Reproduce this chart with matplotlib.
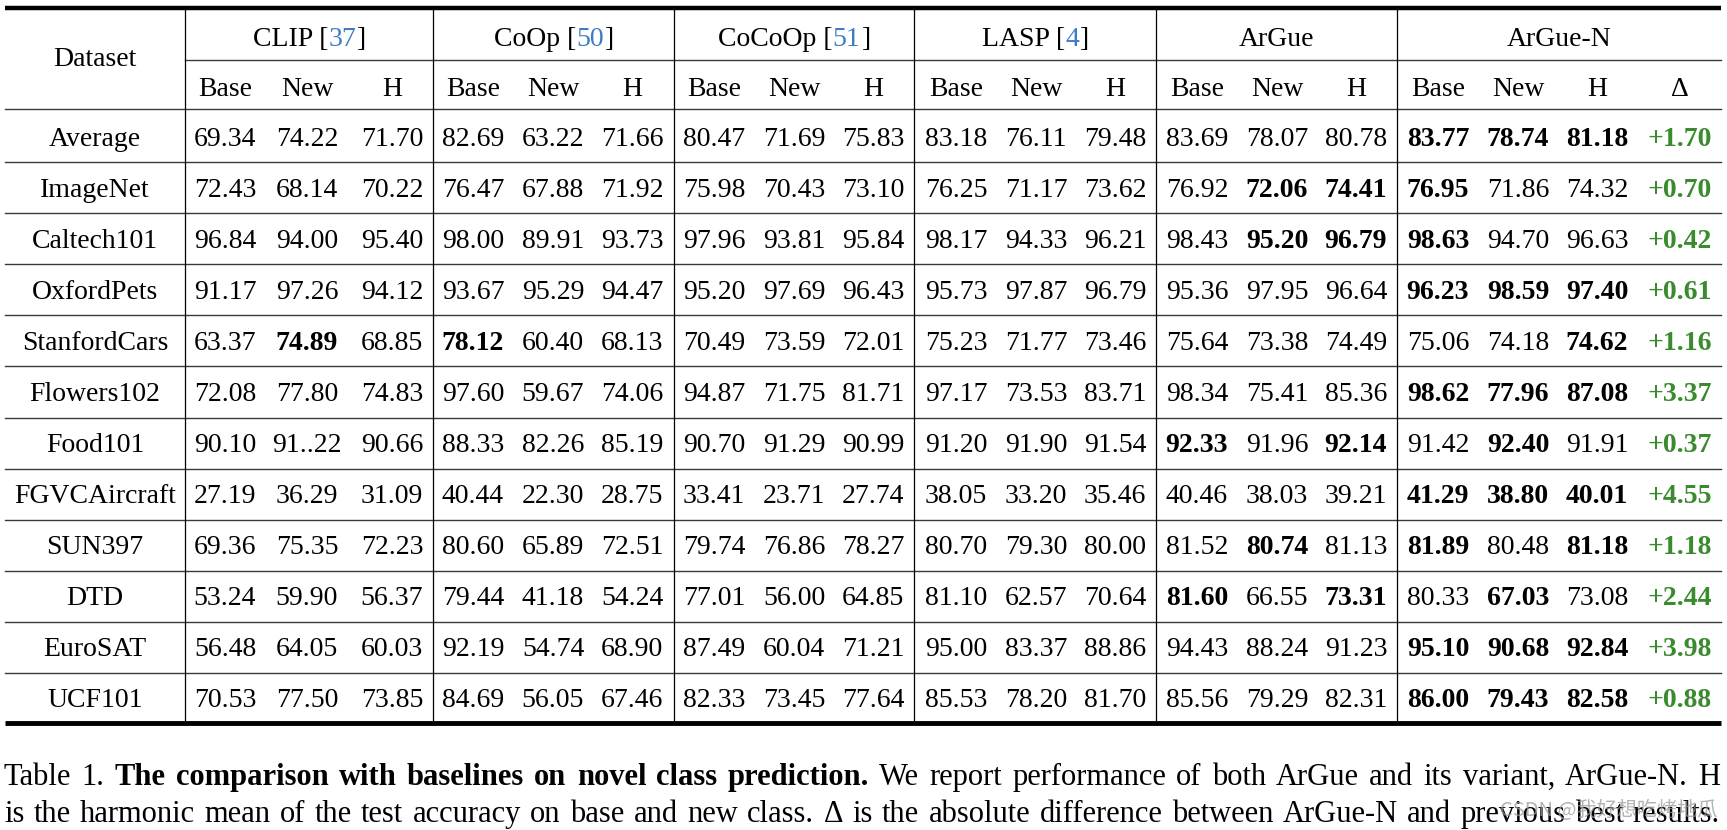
import matplotlib
matplotlib.use('Agg')
import matplotlib.pyplot as plt

plt.rcParams['font.family'] = ['Liberation Serif', 'DejaVu Serif']

# ---- table data ----
datasets = ['Average', 'ImageNet', 'Caltech101', 'OxfordPets', 'StanfordCars',
            'Flowers102', 'Food101', 'FGVCAircraft', 'SUN397', 'DTD',
            'EuroSAT', 'UCF101']
methods = ['CLIP', 'CoOp', 'CoCoOp', 'LASP', 'ArGue', 'ArGue-N']
cites = ['37', '50', '51', '4', None, None]
sub_cols = ['Base', 'New', 'H']

clip = [('69.34', '74.22', '71.70'), ('72.43', '68.14', '70.22'), ('96.84', '94.00', '95.40'),
        ('91.17', '97.26', '94.12'), ('63.37', '74.89', '68.85'), ('72.08', '77.80', '74.83'),
        ('90.10', '91..22', '90.66'), ('27.19', '36.29', '31.09'), ('69.36', '75.35', '72.23'),
        ('53.24', '59.90', '56.37'), ('56.48', '64.05', '60.03'), ('70.53', '77.50', '73.85')]
coop = [('82.69', '63.22', '71.66'), ('76.47', '67.88', '71.92'), ('98.00', '89.91', '93.73'),
        ('93.67', '95.29', '94.47'), ('78.12', '60.40', '68.13'), ('97.60', '59.67', '74.06'),
        ('88.33', '82.26', '85.19'), ('40.44', '22.30', '28.75'), ('80.60', '65.89', '72.51'),
        ('79.44', '41.18', '54.24'), ('92.19', '54.74', '68.90'), ('84.69', '56.05', '67.46')]
cocoop = [('80.47', '71.69', '75.83'), ('75.98', '70.43', '73.10'), ('97.96', '93.81', '95.84'),
          ('95.20', '97.69', '96.43'), ('70.49', '73.59', '72.01'), ('94.87', '71.75', '81.71'),
          ('90.70', '91.29', '90.99'), ('33.41', '23.71', '27.74'), ('79.74', '76.86', '78.27'),
          ('77.01', '56.00', '64.85'), ('87.49', '60.04', '71.21'), ('82.33', '73.45', '77.64')]
lasp = [('83.18', '76.11', '79.48'), ('76.25', '71.17', '73.62'), ('98.17', '94.33', '96.21'),
        ('95.73', '97.87', '96.79'), ('75.23', '71.77', '73.46'), ('97.17', '73.53', '83.71'),
        ('91.20', '91.90', '91.54'), ('38.05', '33.20', '35.46'), ('80.70', '79.30', '80.00'),
        ('81.10', '62.57', '70.64'), ('95.00', '83.37', '88.86'), ('85.53', '78.20', '81.70')]
argue = [('83.69', '78.07', '80.78'), ('76.92', '72.06', '74.41'), ('98.43', '95.20', '96.79'),
         ('95.36', '97.95', '96.64'), ('75.64', '73.38', '74.49'), ('98.34', '75.41', '85.36'),
         ('92.33', '91.96', '92.14'), ('40.46', '38.03', '39.21'), ('81.52', '80.74', '81.13'),
         ('81.60', '66.55', '73.31'), ('94.43', '88.24', '91.23'), ('85.56', '79.29', '82.31')]
argue_n = [('83.77', '78.74', '81.18'), ('76.95', '71.86', '74.32'), ('98.63', '94.70', '96.63'),
           ('96.23', '98.59', '97.40'), ('75.06', '74.18', '74.62'), ('98.62', '77.96', '87.08'),
           ('91.42', '92.40', '91.91'), ('41.29', '38.80', '40.01'), ('81.89', '80.48', '81.18'),
           ('80.33', '67.03', '73.08'), ('95.10', '90.68', '92.84'), ('86.00', '79.43', '82.58')]
delta = ['+1.70', '+0.70', '+0.42', '+0.61', '+1.16', '+3.37',
         '+0.37', '+4.55', '+1.18', '+2.44', '+3.98', '+0.88']

# best results, printed bold: (dataset, method, column)
best = [('Average', 'ArGue-N', 0), ('Average', 'ArGue-N', 1), ('Average', 'ArGue-N', 2),
        ('ImageNet', 'ArGue', 1), ('ImageNet', 'ArGue', 2), ('ImageNet', 'ArGue-N', 0),
        ('Caltech101', 'ArGue', 1), ('Caltech101', 'ArGue', 2), ('Caltech101', 'ArGue-N', 0),
        ('OxfordPets', 'ArGue-N', 0), ('OxfordPets', 'ArGue-N', 1), ('OxfordPets', 'ArGue-N', 2),
        ('StanfordCars', 'CLIP', 1), ('StanfordCars', 'CoOp', 0), ('StanfordCars', 'ArGue-N', 2),
        ('Flowers102', 'ArGue-N', 0), ('Flowers102', 'ArGue-N', 1), ('Flowers102', 'ArGue-N', 2),
        ('Food101', 'ArGue', 0), ('Food101', 'ArGue', 2), ('Food101', 'ArGue-N', 1),
        ('FGVCAircraft', 'ArGue-N', 0), ('FGVCAircraft', 'ArGue-N', 1), ('FGVCAircraft', 'ArGue-N', 2),
        ('SUN397', 'ArGue', 1), ('SUN397', 'ArGue-N', 0), ('SUN397', 'ArGue-N', 2),
        ('DTD', 'ArGue', 0), ('DTD', 'ArGue', 2), ('DTD', 'ArGue-N', 1),
        ('EuroSAT', 'ArGue-N', 0), ('EuroSAT', 'ArGue-N', 1), ('EuroSAT', 'ArGue-N', 2),
        ('UCF101', 'ArGue-N', 0), ('UCF101', 'ArGue-N', 1), ('UCF101', 'ArGue-N', 2)]

caption_1 = [('Table', 'normal'), ('1.', 'normal')] + \
    [(w, 'bold') for w in 'The comparison with baselines on novel class prediction.'.split()] + \
    [(w, 'normal') for w in 'We report performance of both ArGue and its variant, ArGue-N. H'.split()]
caption_2 = [(w, 'normal') for w in ('is the harmonic mean of the test accuracy on base and new class. '
                                    '\u0394 is the absolute difference between ArGue-N and previous best results.').split()]

# ---- layout (pixel coords) ----
W, H = 1727, 830
fs = 20
blue = '#3d7cc4'
green = '#3a8a2e'
vlines = [185, 433, 674, 914, 1156, 1397]
left, right = 5, 1721
col_x = {'CLIP': [225, 307, 392], 'CoOp': [473, 553, 632], 'CoCoOp': [714, 794, 873],
         'LASP': [956, 1036, 1115], 'ArGue': [1197, 1277, 1356], 'ArGue-N': [1438, 1518, 1597]}
delta_x = 1680
row0, row_h = 137, 51.0
base_off = 8.5

fig = plt.figure(figsize=(W / 100, H / 100), dpi=100)
ax = fig.add_axes([0, 0, 1, 1])
ax.set_xlim(0, W)
ax.set_ylim(H, 0)
ax.axis('off')
renderer = fig.canvas.get_renderer()


def segments(x, y, parts, **kw):
    items = [ax.text(0, y, s, color=c, fontsize=fs, va='baseline', **kw) for s, c in parts]
    widths = [t.get_window_extent(renderer).width for t in items]
    cx = x - sum(widths) / 2
    for t, w in zip(items, widths):
        t.set_x(cx)
        cx += w


def justified(words, y, x0, x1, size):
    items = [ax.text(0, y, w, fontsize=size, fontweight=wt, va='baseline') for w, wt in words]
    widths = [t.get_window_extent(renderer).width for t in items]
    gap = (x1 - x0 - sum(widths)) / (len(items) - 1)
    cx = x0
    for t, w in zip(items, widths):
        t.set_x(cx)
        cx += w + gap


# rules
ax.plot([left, right], [8, 8], color='black', lw=3.2, solid_capstyle='butt')
ax.plot([left, right], [722.5, 722.5], color='black', lw=3.5, solid_capstyle='butt')
ax.plot([vlines[0], right], [60, 60], color='#3a3a3a', lw=1.0)
ax.plot([left, right], [109, 109], color='#3a3a3a', lw=1.0)
for i in range(len(datasets) - 1):
    y = row0 + row_h / 2 + i * row_h
    ax.plot([left, right], [y, y], color='#3a3a3a', lw=1.0)
for x in vlines:
    ax.plot([x, x], [10, 720], color='black', lw=0.9)

# header
ax.text(95, 58 + base_off, 'Dataset', fontsize=fs, ha='center', va='baseline')
group_edges = vlines + [right]
for k, m in enumerate(methods):
    cx = (group_edges[k] + group_edges[k + 1]) / 2
    if cites[k]:
        segments(cx, 38 + base_off, [(m + ' [', 'black'), (cites[k], blue), (']', 'black')])
    else:
        ax.text(cx, 38 + base_off, m, fontsize=fs, ha='center', va='baseline')
    for j, s in enumerate(sub_cols):
        ax.text(col_x[m][j], 87 + base_off, s, fontsize=fs, ha='center', va='baseline')
ax.text(delta_x, 87 + base_off, '\u0394', fontsize=fs, ha='center', va='baseline')

# body
tables = dict(zip(methods, [clip, coop, cocoop, lasp, argue, argue_n]))
for i, d in enumerate(datasets):
    y = row0 + i * row_h + base_off
    ax.text(95, y, d, fontsize=fs, ha='center', va='baseline')
    for m in methods:
        for j, v in enumerate(tables[m][i]):
            wt = 'bold' if (d, m, j) in best else 'normal'
            ax.text(col_x[m][j], y, v, fontsize=fs, ha='center', va='baseline', fontweight=wt)
    ax.text(delta_x, y, delta[i], fontsize=fs, ha='center', va='baseline',
            fontweight='bold', color=green)

# caption: slightly larger than the table text, fitted to the line width
cap_fs = 22
probe = ax.text(0, 0, ' '.join(w for w, _ in caption_1), fontsize=cap_fs)
nat = probe.get_window_extent(renderer).width
probe.remove()
if nat > 1690:
    cap_fs = cap_fs * 1690 / nat
justified(caption_1, 785, 4, 1720, cap_fs)
justified(caption_2, 822, 4, 1720, cap_fs)

# watermark
ax.text(1500, 816, 'CSDN @我好想吃烤地瓜', fontsize=14.5, color='#9a9a9a', alpha=0.75,
        family=['Noto Sans CJK SC', 'DejaVu Sans'], va='baseline', zorder=5)

fig.savefig('out.png', dpi=100)
